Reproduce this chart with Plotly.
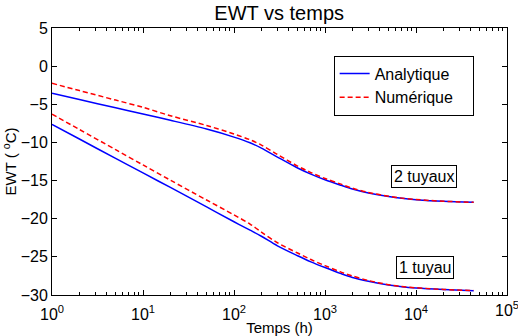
import plotly.graph_objects as go

# Time (h)
temps = [1, 2, 5, 10, 20, 50, 100, 150, 200, 300, 500, 700, 1000, 1500, 2000, 3000, 5000, 7000, 10000, 20000, 43000]

# 2 tuyaux
ana_2 = [-3.55, -4.38, -5.45, -6.28, -7.10, -8.25, -9.30, -10.05, -10.75, -11.92, -13.35, -14.15, -14.90,
         -15.62, -16.10, -16.62, -17.10, -17.33, -17.50, -17.72, -17.85]
num_2 = [-2.25, -3.20, -4.45, -5.40, -6.50, -7.78, -8.90, -9.65, -10.35, -11.58, -13.10, -13.95, -14.72,
         -15.47, -16.00, -16.55, -17.05, -17.30, -17.48, -17.71, -17.85]

# 1 tuyau
ana_1 = [-7.63, -9.55, -12.10, -14.00, -15.90, -18.45, -20.40, -21.50, -22.30, -23.55, -24.85, -25.65, -26.40,
         -27.20, -27.70, -28.20, -28.70, -28.92, -29.08, -29.28, -29.45]
num_1 = [-6.30, -8.30, -10.95, -12.95, -14.95, -17.55, -19.50, -20.70, -21.75, -23.15, -24.50, -25.35, -26.15,
         -27.00, -27.50, -28.10, -28.65, -28.90, -29.05, -29.27, -29.42]

xticks = [1, 10, 100, 1000, 10000]
xticklabels = ["10<sup>0</sup>", "10<sup>1</sup>", "10<sup>2</sup>", "10<sup>3</sup>", "10<sup>4</sup>"]
last_xtick_exp = 5
last_xticklabel = "10<sup>5</sup>"
yticks = [5, 0, -5, -10, -15, -20, -25, -30]
yticklabels = ["5", "0", "\u22125", "\u221210", "\u221215", "\u221220", "\u221225", "\u221230"]
minor_x = [m * 10 ** k for k in range(0, 5) for m in range(2, 10)]

BLUE = "#0000FF"
RED = "#FF0000"
FONT = "Liberation Sans, Arial, sans-serif"
PAD = "<span style='color:rgba(0,0,0,0)'>....</span>"

fig = go.Figure()
fig.add_trace(go.Scatter(x=temps, y=ana_2, mode="lines", name="Analytique" + PAD,
                         line=dict(color=BLUE, width=1.5, shape="spline", smoothing=0.9)))
fig.add_trace(go.Scatter(x=temps, y=num_2, mode="lines", name="Numérique",
                         line=dict(color=RED, width=1.5, dash="5px,3px", shape="spline", smoothing=0.9)))
fig.add_trace(go.Scatter(x=temps, y=ana_1, mode="lines", showlegend=False,
                         line=dict(color=BLUE, width=1.5, shape="spline", smoothing=0.9)))
fig.add_trace(go.Scatter(x=temps, y=num_1, mode="lines", showlegend=False,
                         line=dict(color=RED, width=1.5, dash="5px,3px", shape="spline", smoothing=0.9)))

fig.update_layout(
    width=518, height=336,
    margin=dict(l=52, r=11, t=28, b=41),
    paper_bgcolor="white", plot_bgcolor="white",
    font=dict(family=FONT, size=16, color="black"),
    title=dict(text="EWT vs temps", x=0.539, xanchor="center", y=0.962, yanchor="middle",
               font=dict(size=20)),
    showlegend=True,
    legend=dict(x=0.619, y=0.897, xanchor="left", yanchor="top",
                bgcolor="white", bordercolor="black", borderwidth=1,
                font=dict(size=16), tracegroupgap=0, itemwidth=30),
    xaxis=dict(type="log", range=[0, 5], tickvals=xticks + [10 ** last_xtick_exp],
               ticktext=xticklabels + [""],
               ticks="inside", ticklen=5, tickcolor="black", showline=True, linecolor="black",
               linewidth=1, mirror="ticks", showgrid=False, zeroline=False, automargin=False,
               minor=dict(tickvals=minor_x, ticks="inside", ticklen=3, tickcolor="black", showgrid=False),
               ticklabelstandoff=5,
               title=dict(text="Temps (h)", standoff=0, font=dict(size=15)),
               tickfont=dict(size=16)),
    yaxis=dict(range=[-30, 5], tickvals=yticks, ticktext=yticklabels,
               ticks="inside", ticklen=5, tickcolor="black", showline=True, linecolor="black",
               linewidth=1, mirror="ticks", showgrid=False, zeroline=False, automargin=False,
               title=dict(text="EWT ( <sup>o</sup>C)", standoff=2, font=dict(size=15)),
               tickfont=dict(size=16)),
    annotations=[
        dict(x=4.088, y=-14.53, xref="x", yref="y", text="2 tuyaux", showarrow=False,
             bordercolor="black", borderwidth=1, borderpad=2, bgcolor="white",
             font=dict(size=16)),
        dict(x=4.099, y=-26.4, xref="x", yref="y", text="1 tuyau", showarrow=False,
             bordercolor="black", borderwidth=1, borderpad=2, bgcolor="white",
             font=dict(size=16)),
        dict(x=last_xtick_exp, y=0, xref="x", yref="paper", text=last_xticklabel,
             showarrow=False, xanchor="center", yanchor="top", yshift=-2,
             font=dict(size=16)),
    ],
)

fig.write_html("out.html")
